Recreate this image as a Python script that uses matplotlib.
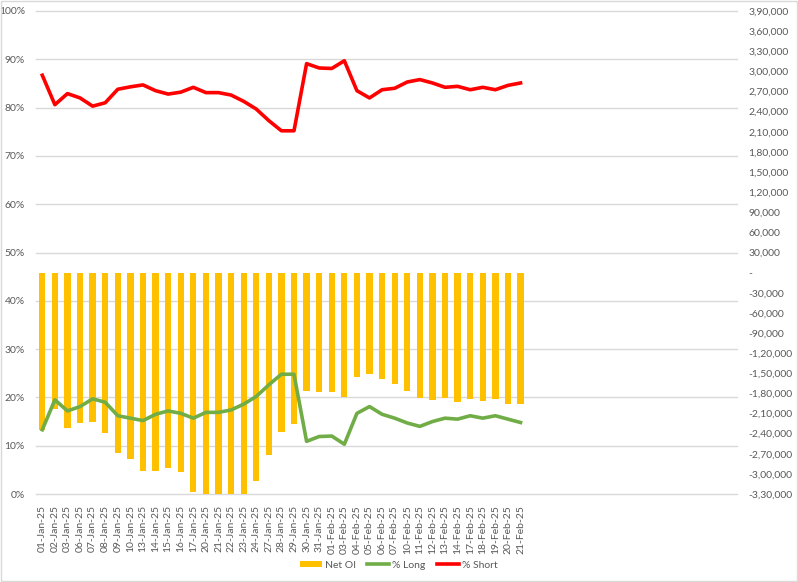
import matplotlib
matplotlib.use('Agg')
import matplotlib.pyplot as plt
import matplotlib.transforms as mtransforms
from matplotlib.patches import Patch, Rectangle
from matplotlib.lines import Line2D
from matplotlib.ticker import FuncFormatter, MultipleLocator

# trading days shown on the x axis
dates = ['01-Jan-25', '02-Jan-25', '03-Jan-25', '06-Jan-25', '07-Jan-25', '08-Jan-25',
         '09-Jan-25', '10-Jan-25', '13-Jan-25', '14-Jan-25', '15-Jan-25', '16-Jan-25',
         '17-Jan-25', '20-Jan-25', '21-Jan-25', '22-Jan-25', '23-Jan-25', '24-Jan-25',
         '27-Jan-25', '28-Jan-25', '29-Jan-25', '30-Jan-25', '31-Jan-25', '01-Feb-25',
         '03-Feb-25', '04-Feb-25', '05-Feb-25', '06-Feb-25', '07-Feb-25', '10-Feb-25',
         '11-Feb-25', '12-Feb-25', '13-Feb-25', '14-Feb-25', '17-Feb-25', '18-Feb-25',
         '19-Feb-25', '20-Feb-25', '21-Feb-25']

# net open interest (right axis)
net_oi = [-234600, -203000, -232000, -224600, -223000, -239500, -269400, -278300,
          -296300, -296300, -291800, -297800, -327700, -332000, -332000, -332000,
          -332000, -310700, -272400, -238000, -226000, -175800, -177300, -177300,
          -185700, -155900, -151400, -158800, -165300, -175800, -187300, -189700,
          -186300, -192200, -188200, -191200, -187700, -195700, -195700]

# percentage long / short (left axis)
pct_long = [13.3, 19.5, 17.2, 18.1, 19.7, 19.0, 16.2, 15.7, 15.2, 16.5, 17.2, 16.7,
            15.7, 16.9, 16.9, 17.4, 18.6, 20.2, 22.6, 24.8, 24.8, 10.9, 11.9, 12.0,
            10.3, 16.7, 18.1, 16.5, 15.7, 14.7, 14.0, 15.0, 15.7, 15.5, 16.2, 15.7,
            16.2, 15.5, 14.8]
pct_short = [86.7, 80.6, 82.9, 82.0, 80.3, 81.0, 83.8, 84.3, 84.7, 83.5, 82.8, 83.2,
             84.2, 83.1, 83.1, 82.6, 81.3, 79.7, 77.3, 75.2, 75.2, 89.1, 88.2, 88.1,
             89.7, 83.5, 82.0, 83.7, 84.0, 85.3, 85.8, 85.1, 84.2, 84.4, 83.7, 84.2,
             83.7, 84.6, 85.1]

YELLOW = '#FFC000'
GREEN = '#70AD47'
RED = '#FF0000'
GREY = '#595959'
GRID = '#D9D9D9'

plt.rcParams['font.family'] = ['Lato', 'DejaVu Sans']


def indian(v, pos=None):
    v = int(round(v))
    if v == 0:
        return '-'
    s = str(abs(v))
    if len(s) > 3:
        head, tail = s[:-3], s[-3:]
        parts = []
        while len(head) > 2:
            parts.insert(0, head[-2:])
            head = head[:-2]
        if head:
            parts.insert(0, head)
        s = ','.join(parts) + ',' + tail
    return ('-' if v < 0 else '') + s


fig = plt.figure(figsize=(7.98, 5.82), dpi=100)
fig.patches.append(Rectangle((0.001, 0.001), 0.998, 0.998, transform=fig.transFigure,
                             fill=False, edgecolor=GRID, linewidth=1))

axb = fig.add_axes([36 / 798, 88 / 582, (737 - 36) / 798, (494 - 11) / 582])
axl = axb.twinx()

x = list(range(len(dates)))

# bars on the secondary (right) axis
axb.bar(x, net_oi, width=0.5, color=YELLOW, zorder=2)
axb.set_ylim(-330000, 390000)
axb.yaxis.set_major_locator(MultipleLocator(30000))
axb.yaxis.set_major_formatter(FuncFormatter(indian))
axb.yaxis.tick_right()
axb.yaxis.set_label_position('right')

# lines on the primary (left) axis
axl.plot(x, pct_long, color=GREEN, linewidth=2.6, solid_joinstyle='round')
axl.plot(x, pct_short, color=RED, linewidth=2.6, solid_joinstyle='round')
axl.set_ylim(0, 100)
axl.yaxis.set_major_locator(MultipleLocator(10))
axl.yaxis.set_major_formatter(FuncFormatter(lambda v, p: '%d%%' % v))
axl.yaxis.tick_left()
axl.yaxis.set_label_position('left')

# horizontal gridlines follow the percentage axis, drawn behind the bars
trans = mtransforms.blended_transform_factory(axb.transAxes, axl.transData)
for p in range(0, 101, 10):
    axb.plot([0, 1], [p, p], transform=trans, color=GRID, linewidth=1, zorder=0,
             clip_on=False)

axb.set_xlim(-0.5, 55.2)
axb.set_xticks(x)
axb.set_xticklabels(dates, rotation=90, fontsize=7.5, color=GREY)

for ax in (axb, axl):
    for s in ax.spines.values():
        s.set_visible(False)
    ax.tick_params(length=0)

axb.tick_params(axis='y', labelsize=7.5, labelcolor=GREY, pad=8)
axl.tick_params(axis='y', labelsize=7.5, labelcolor=GREY, pad=8)
axb.tick_params(axis='x', pad=8)

handles = [Patch(facecolor=YELLOW, edgecolor='none'),
           Line2D([], [], color=GREEN, linewidth=2.6),
           Line2D([], [], color=RED, linewidth=2.6)]
fig.legend(handles, ['Net OI', '% Long', '% Short'], loc='center',
           bbox_to_anchor=(0.5, 1 - 565 / 582), ncol=3, frameon=False,
           fontsize=7.5, labelcolor=GREY, handlelength=2.1, handletextpad=0.3,
           columnspacing=1.1, handleheight=0.55)

fig.savefig('out.png', dpi=100)
